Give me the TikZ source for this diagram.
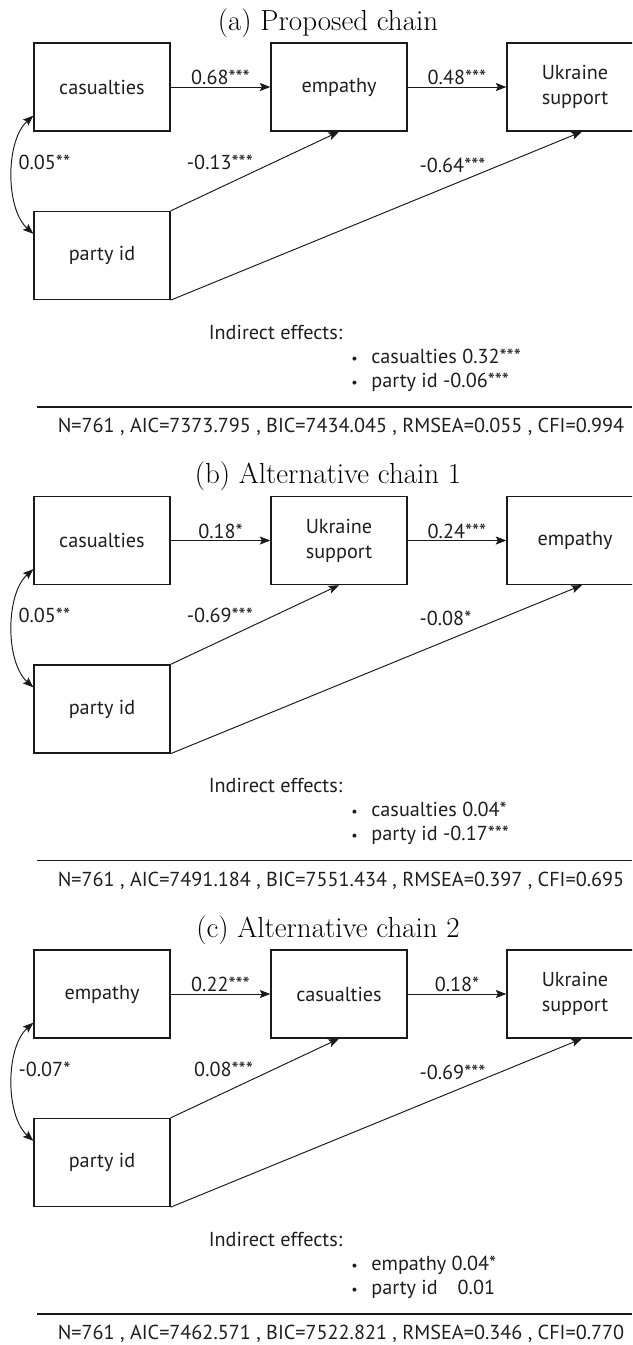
\documentclass[tikz,border=0pt]{standalone}
\usepackage{fontspec}
\setsansfont{PT Sans}
\usepackage{tikz}
\usetikzlibrary{arrows.meta,positioning}
\definecolor{semInk}{HTML}{1A1A1A}
\definecolor{semText}{HTML}{1E1E1E}
\newcommand{\semitem}[1]{\makebox[0.4cm][l]{\scalebox{0.7}{\textbullet}}#1}

\begin{document}
\begin{tikzpicture}[
  font=\sffamily\fontsize{11.5}{14.2}\selectfont,
  box/.style={draw=semInk,line width=0.75pt,minimum width=2.72cm,minimum height=1.76cm,inner sep=0pt,align=center,text=semText},
  arr/.style={-{Stealth[length=6pt,width=4.6pt,inset=1.2pt]},line width=0.55pt,draw=semInk},
  dbl/.style={{Stealth[length=6pt,width=4.6pt,inset=1.2pt]}-{Stealth[length=6pt,width=4.6pt,inset=1.2pt]},line width=0.55pt,draw=semInk},
  lbl/.style={inner sep=1pt,text=semText},
  ttl/.style={font=\rmfamily\fontsize{16.5}{20}\selectfont},
  note/.style={inner sep=0pt,text=semText,align=left,font=\sffamily\fontsize{11.5}{13.6}\selectfont}
]
\clip (0,0) rectangle (12.64,-26.90);

% (a) proposed chain
\node[ttl] (ttlA) at (6.56,-0.46) {(a) Proposed chain};
\node[box] (casA) at (2.04,-1.74) {casualties};
\node[box] (empA) at (6.78,-1.74) {empathy};
\node[box] (ukrA) at (11.50,-1.74) {Ukraine\\support};
\node[box] (partyA) at (2.04,-5.11) {party id};
\draw[arr] (casA) -- node[lbl,above] (l1A) {0.68***} (empA);
\draw[arr] (empA) -- node[lbl,above] (l2A) {0.48***} (ukrA);
\draw[dbl] ([yshift=0.32cm]casA.south west) .. controls +(-0.56,-0.5) and +(-0.56,0.5) .. ([yshift=-0.46cm]partyA.north west);
\draw[arr] (partyA.north east) -- (empA.south);
\draw[arr] (partyA.south east) -- ([xshift=0.14cm]ukrA.south);
\node[lbl,anchor=west] (l3A) at (0.33,-3.24) {0.05**};
\node[lbl,anchor=east] (l4A) at (5.10,-3.24) {-0.13***};
\node[lbl,anchor=west] (l5A) at (8.35,-3.30) {-0.64***};
\node[note] (indA) at (5.51,-6.64) {Indirect effects:};
\node[note,anchor=west] (listA) at (7.02,-7.40) {\semitem{casualties 0.32***}\\\semitem{party id -0.06***}};
\draw[semInk,line width=0.6pt] (0.74,-8.14) -- (12.64,-8.14);
\node[note] (fitA) at (6.82,-8.54) {N=761 , AIC=7373.795 , BIC=7434.045 , RMSEA=0.055 , CFI=0.994};

% (b) alternative chain 1
\node[ttl] (ttlB) at (6.56,-9.53) {(b) Alternative chain 1};
\node[box] (casB) at (2.04,-10.81) {casualties};
\node[box] (ukrB) at (6.78,-10.81) {Ukraine\\support};
\node[box] (empB) at (11.50,-10.81) {empathy};
\node[box] (partyB) at (2.04,-14.18) {party id};
\draw[arr] (casB) -- node[lbl,above] (l1B) {0.18*} (ukrB);
\draw[arr] (ukrB) -- node[lbl,above] (l2B) {0.24***} (empB);
\draw[dbl] ([yshift=0.32cm]casB.south west) .. controls +(-0.56,-0.5) and +(-0.56,0.5) .. ([yshift=-0.46cm]partyB.north west);
\draw[arr] (partyB.north east) -- (ukrB.south);
\draw[arr] (partyB.south east) -- ([xshift=0.14cm]empB.south);
\node[lbl,anchor=west] (l3B) at (0.33,-12.31) {0.05**};
\node[lbl,anchor=east] (l4B) at (5.10,-12.31) {-0.69***};
\node[lbl,anchor=west] (l5B) at (8.35,-12.37) {-0.08*};
\node[note] (indB) at (5.51,-15.71) {Indirect effects:};
\node[note,anchor=west] (listB) at (7.02,-16.47) {\semitem{casualties 0.04*}\\\semitem{party id -0.17***}};
\draw[semInk,line width=0.6pt] (0.74,-17.21) -- (12.64,-17.21);
\node[note] (fitB) at (6.82,-17.61) {N=761 , AIC=7491.184 , BIC=7551.434 , RMSEA=0.397 , CFI=0.695};

% (c) alternative chain 2
\node[ttl] (ttlC) at (6.56,-18.60) {(c) Alternative chain 2};
\node[box] (empC) at (2.04,-19.88) {empathy};
\node[box] (casC) at (6.78,-19.88) {casualties};
\node[box] (ukrC) at (11.50,-19.88) {Ukraine\\support};
\node[box] (partyC) at (2.04,-23.25) {party id};
\draw[arr] (empC) -- node[lbl,above] (l1C) {0.22***} (casC);
\draw[arr] (casC) -- node[lbl,above] (l2C) {0.18*} (ukrC);
\draw[dbl] ([yshift=0.32cm]empC.south west) .. controls +(-0.56,-0.5) and +(-0.56,0.5) .. ([yshift=-0.46cm]partyC.north west);
\draw[arr] (partyC.north east) -- (casC.south);
\draw[arr] (partyC.south east) -- ([xshift=0.14cm]ukrC.south);
\node[lbl,anchor=west] (l3C) at (0.33,-21.38) {-0.07*};
\node[lbl,anchor=east] (l4C) at (5.10,-21.38) {0.08***};
\node[lbl,anchor=west] (l5C) at (8.35,-21.44) {-0.69***};
\node[note] (indC) at (5.51,-24.78) {Indirect effects:};
\node[note,anchor=west] (listC) at (7.02,-25.54) {\semitem{empathy 0.04*}\\\semitem{party id\hspace{0.4cm}0.01}};
\draw[semInk,line width=0.6pt] (0.74,-26.28) -- (12.64,-26.28);
\node[note] (fitC) at (6.82,-26.68) {N=761 , AIC=7462.571 , BIC=7522.821 , RMSEA=0.346 , CFI=0.770};
\end{tikzpicture}
\end{document}
